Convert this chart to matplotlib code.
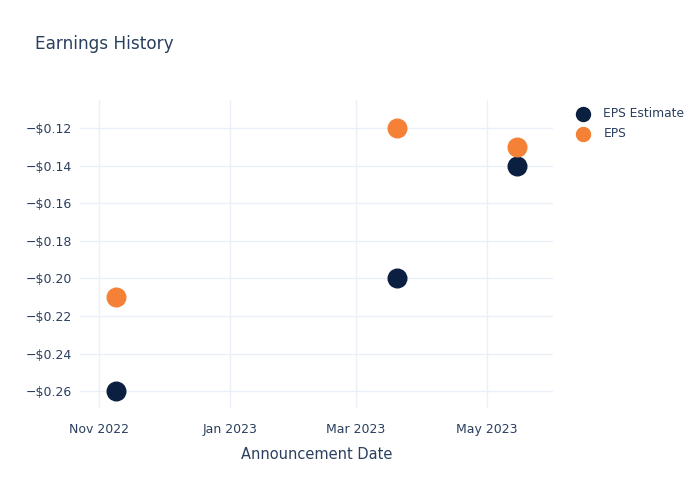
import matplotlib.pyplot as plt
import matplotlib.ticker as mticker
import pandas as pd

dates = pd.to_datetime(['2022-11-09', '2023-03-20', '2023-05-15'])
eps_estimate = [-0.26, -0.20, -0.14]
eps_actual = [-0.21, -0.12, -0.13]

tick_dates = pd.to_datetime(['2022-11-01', '2023-01-01', '2023-03-01', '2023-05-01'])
tick_labels = ['Nov 2022', 'Jan 2023', 'Mar 2023', 'May 2023']
y_ticks = [-0.26, -0.24, -0.22, -0.20, -0.18, -0.16, -0.14, -0.12]

text_color = '#2a3f5f'
grid_color = '#ebf0f8'

plt.rcParams['font.family'] = ['DejaVu Sans']

fig = plt.figure(figsize=(7, 5), dpi=100)
ax = fig.add_axes([80 / 700, 92 / 500, 473 / 700, 308 / 500])

ax.scatter(dates, eps_estimate, s=180, color='#0b1f40', label='EPS Estimate', zorder=3)
ax.scatter(dates, eps_actual, s=180, color='#f58136', label='EPS', zorder=4)

ax.set_xlim(pd.Timestamp('2022-10-23'), pd.Timestamp('2023-06-01'))
ax.set_ylim(-0.2690, -0.1051)

ax.set_xticks(tick_dates)
ax.set_xticklabels(tick_labels)
ax.set_yticks(y_ticks)
ax.yaxis.set_major_formatter(mticker.FuncFormatter(
    lambda v, p: ('\u2212' if v < 0 else '') + '$%.2f' % abs(v)))

ax.grid(True, color=grid_color, linewidth=1)
ax.set_axisbelow(True)
for s in ax.spines.values():
    s.set_visible(False)
ax.tick_params(length=0, colors=text_color, labelsize=9)
ax.tick_params(axis='y', pad=6)
ax.tick_params(axis='x', pad=10.5)

ax.set_xlabel('Announcement Date', color=text_color, fontsize=10.5, labelpad=8)

fig.text(35 / 700, 1 - 44 / 500, 'Earnings History', color=text_color, fontsize=12.2,
         va='center', ha='left')

leg = ax.legend(loc='upper left', bbox_to_anchor=(1.0265, 0.993), frameon=False,
                fontsize=8.8, labelcolor=text_color, handletextpad=0.7,
                borderaxespad=0, labelspacing=0.55, markerscale=0.75)

fig.savefig('out.png', dpi=100)
